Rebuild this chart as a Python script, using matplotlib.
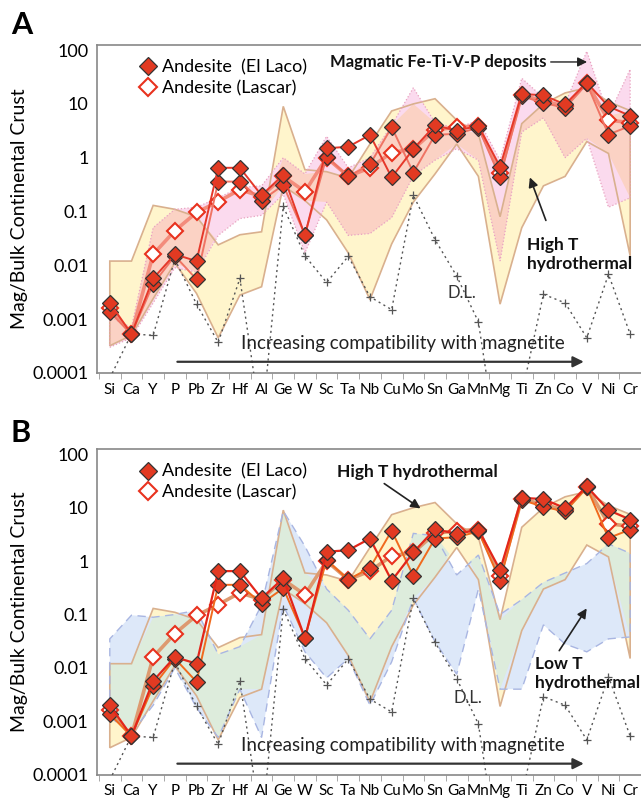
import numpy as np
import matplotlib
matplotlib.use('Agg')
import matplotlib.pyplot as plt
from matplotlib.lines import Line2D

plt.rcParams['font.family'] = ['Lato', 'DejaVu Sans']

# elements, ordered by increasing compatibility with magnetite
elements = ['Si', 'Ca', 'Y', 'P', 'Pb', 'Zr', 'Hf', 'Al', 'Ge', 'W', 'Sc', 'Ta', 'Nb',
            'Cu', 'Mo', 'Sn', 'Ga', 'Mn', 'Mg', 'Ti', 'Zn', 'Co', 'V', 'Ni', 'Cr']

# magnetite / bulk continental crust
el_laco_1 = [0.0020, 0.00053, 0.0057, 0.016, 0.012, 0.65, 0.65, 0.20, 0.48, 0.036, 1.5, 1.6, 2.65,
             0.43, 1.45, 4.0, 3.2, 3.9, 0.68, 15.3, 14.5, 9.8, 25, 9.0, 6.0]
el_laco_2 = [0.00135, 0.00053, 0.0045, 0.015, 0.0055, 0.36, 0.36, 0.16, 0.31, 0.037, 1.05, 0.45, 0.75,
             3.7, 0.53, 2.65, 2.8, 3.6, 0.43, 14.0, 10.4, 8.5, 24, 2.7, 3.9]
lascar = [0.0016, 0.00053, 0.016, 0.044, 0.096, 0.153, 0.255, 0.19, 0.45, 0.235, 1.0, 0.45, 0.65,
          1.25, 1.45, 3.3, 3.7, 3.9, 0.53, 14.5, 11.5, 9.0, 24.5, 5.0, 4.5]
detection_limit = [8e-5, 5.3e-4, 5e-4, 0.013, 0.0019, 0.00037, 0.0057, 1e-5, 0.125, 0.015, 0.0048, 0.0147,
                   0.0026, 0.0015, 0.2, 0.03, 0.0063, 0.00089, 2e-6, 4e-5, 0.0029, 0.002, 0.00045, 0.0068, 0.00053]

# reference fields
high_t_hi = [0.012, 0.012, 0.13, 0.11, 0.08, 0.024, 0.037, 0.042, 9.0, 0.6, 0.55, 0.42, 1.8,
             7.4, 10.0, 12.5, 5.0, 2.8, 0.08, 4.3, 10.0, 16, 20, 11, 7.5]
high_t_lo = [0.00032, 0.0005, 0.0024, 0.011, 0.003, 0.00045, 0.0028, 0.004, 0.3, 0.16, 0.07, 0.017, 0.0023,
             0.025, 0.15, 0.5, 1.8, 0.45, 0.0019, 0.05, 0.3, 0.45, 2.0, 1.2, 0.015]
magmatic_hi = [0.0011, 0.0007, 0.05, 0.11, 0.12, 0.18, 0.28, 0.3, 1.0, 0.5, 2.5, 0.65, 1.0,
               4.0, 20, 4.5, 3.5, 5.0, 0.9, 30, 13, 10, 95, 6, 44]
magmatic_lo = [0.0003, 0.00045, 0.002, 0.009, 0.0075, 0.036, 0.074, 0.085, 0.21, 0.017, 0.15, 0.036, 0.039,
               0.077, 0.46, 0.9, 1.47, 0.9, 0.012, 3.0, 5.5, 1.0, 2.3, 0.12, 0.18]
low_t_hi = [0.035, 0.097, 0.089, 0.1, 0.12, 0.018, 0.025, 0.15, 8.7, 1.9, 0.3, 0.12, 0.035,
            0.12, 3.3, 3.0, 0.55, 1.3, 0.1, 0.19, 0.4, 0.6, 0.9, 2.1, 1.4]
low_t_lo = [0.0012, 0.0006, 0.002, 0.01, 0.0018, 0.0005, 0.004, 0.0005, 0.15, 0.02, 0.0065, 0.015, 0.002,
            0.013, 0.2, 0.031, 0.0076, 0.3, 0.004, 0.004, 0.064, 0.028, 0.02, 0.035, 0.038]

x = np.arange(len(elements))


def draw_field(ax, lo, hi, face, edge, ls, lw):
    xs = np.r_[x, x[::-1]]
    ys = np.r_[lo, hi[::-1]]
    ax.fill(xs, ys, facecolor=face, edgecolor='none', zorder=1)
    ax.fill(xs, ys, facecolor='none', edgecolor=edge, linestyle=ls, lw=lw, zorder=3)


def draw_overlap(ax, lo1, hi1, lo2, hi2, face):
    lo = np.maximum(lo1, lo2)
    hi = np.minimum(hi1, hi2)
    ax.fill_between(x, lo, hi, where=hi > lo, interpolate=True, color=face, lw=0, zorder=2)


def draw_samples(ax, colors, widths):
    ax.plot(x, detection_limit, color='#555555', ls=(0, (1.5, 2.5)), lw=1.0,
            marker='+', ms=6, mew=0.9, zorder=4)
    ax.plot(x, lascar, color=colors[2], lw=widths[2], marker='D', ms=8,
            mfc='white', mec='#e8321e', mew=1.5, zorder=5)
    ax.plot(x, el_laco_2, color=colors[1], lw=widths[1], marker='D', ms=8,
            mfc='#e23a22', mec='#333333', mew=0.9, zorder=6)
    ax.plot(x, el_laco_1, color=colors[0], lw=widths[0], marker='D', ms=8,
            mfc='#e23a22', mec='#333333', mew=0.9, zorder=7)


def setup_axes(ax):
    ax.set_yscale('log')
    ax.set_ylim(1e-4, 125)
    ax.set_xlim(-0.6, 24.41)
    ax.set_yticks([1e-4, 1e-3, 1e-2, 0.1, 1, 10, 100])
    ax.set_yticklabels(['0.0001', '0.001', '0.01', '0.1', '1', '10', '100'], fontsize=13)
    ax.yaxis.set_minor_locator(plt.NullLocator())
    ax.tick_params(axis='y', length=0, pad=6)
    ax.set_xticks(x)
    ax.set_xticklabels(elements, fontsize=11)
    ax.set_xticks(np.arange(-0.5, 24.6, 1), minor=True)
    ax.tick_params(axis='x', which='major', length=0, pad=7)
    ax.tick_params(axis='x', which='minor', length=4, color='#999999')
    for s in ['left', 'bottom', 'top']:
        ax.spines[s].set_color('#888888')
        ax.spines[s].set_linewidth(1.2)
    ax.spines['right'].set_visible(False)
    ax.set_ylabel('Mag/Bulk Continental Crust', fontsize=14, labelpad=3)

    handles = [Line2D([], [], ls='none', marker='D', ms=9, mfc='#e23a22', mec='#333333', mew=0.9),
               Line2D([], [], ls='none', marker='D', ms=9, mfc='white', mec='#e8321e', mew=1.5)]
    ax.legend(handles, ['Andesite  (El Laco)', 'Andesite (Lascar)'], loc='upper left',
              bbox_to_anchor=(0.045, 1.005), frameon=False, fontsize=13,
              handletextpad=0.15, labelspacing=0.25, handlelength=1.2)

    ax.text(0.5625, 0.09, 'Increasing compatibility with magnetite', transform=ax.transAxes,
            ha='center', va='center', fontsize=13.5, color='#222222', zorder=8)
    ax.annotate('', xy=(0.9, 0.034), xytext=(0.143, 0.034), xycoords='axes fraction',
                arrowprops=dict(arrowstyle='-|>', color='#333333', lw=1.6, mutation_scale=16), zorder=8)


fig = plt.figure(figsize=(6.41, 8.02), dpi=100)
ax_a = fig.add_axes([0.151, 0.535, 0.849, 0.409])
ax_b = fig.add_axes([0.151, 0.034, 0.849, 0.406])

# panel A: magmatic vs high T hydrothermal
draw_field(ax_a, np.array(high_t_lo), np.array(high_t_hi), '#fff5cc', '#d9b08e', '-', 1.2)
draw_field(ax_a, np.array(magmatic_lo), np.array(magmatic_hi), '#fbdaee', '#e8a2bf', ':', 0.9)
draw_overlap(ax_a, np.array(high_t_lo), np.array(high_t_hi),
             np.array(magmatic_lo), np.array(magmatic_hi), '#fbd2c4')
draw_samples(ax_a, ['#e5382a', '#ef7464', '#f38c7c'], [1.4, 1.4, 2.6])
setup_axes(ax_a)

ax_a.text(0.428, 0.948, 'Magmatic Fe-Ti-V-P deposits', transform=ax_a.transAxes,
          ha='left', va='center', fontsize=12, fontweight='bold', color='#111111')
ax_a.annotate('', xy=(0.906, 0.948), xytext=(0.829, 0.948), xycoords='axes fraction',
              arrowprops=dict(arrowstyle='-|>', color='#222222', lw=1.0, mutation_scale=14))
ax_a.text(0.79, 0.36, 'High T\nhydrothermal', transform=ax_a.transAxes, ha='left', va='center',
          fontsize=12.5, fontweight='bold', color='#111111', linespacing=1.25, zorder=8)
ax_a.annotate('', xy=(0.794, 0.604), xytext=(0.827, 0.457), xycoords='axes fraction',
              arrowprops=dict(arrowstyle='-|>', color='#222222', lw=1.2, mutation_scale=14))
ax_a.text(0.671, 0.244, 'D.L.', transform=ax_a.transAxes, ha='center', va='center',
          fontsize=12, color='#333333')

# panel B: low T vs high T hydrothermal
draw_field(ax_b, np.array(high_t_lo), np.array(high_t_hi), '#fff5cc', '#d9b08e', '-', 1.2)
draw_field(ax_b, np.array(low_t_lo), np.array(low_t_hi), '#dde8f9', '#a9b6e2', (0, (6, 4)), 1.0)
draw_overlap(ax_b, np.array(high_t_lo), np.array(high_t_hi),
             np.array(low_t_lo), np.array(low_t_hi), '#ddecdc')
draw_samples(ax_b, ['#e3261a', '#f06a1e', '#dd9a70'], [1.6, 1.4, 2.6])
setup_axes(ax_b)

ax_b.text(0.589, 0.929, 'High T hydrothermal', transform=ax_b.transAxes, ha='center', va='center',
          fontsize=12.5, fontweight='bold', color='#111111')
ax_b.annotate('', xy=(0.599, 0.813), xytext=(0.524, 0.899), xycoords='axes fraction',
              arrowprops=dict(arrowstyle='-|>', color='#222222', lw=1.2, mutation_scale=14))
ax_b.text(0.805, 0.31, 'Low T\nhydrothermal', transform=ax_b.transAxes, ha='left', va='center',
          fontsize=12.5, fontweight='bold', color='#111111', linespacing=1.25, zorder=8)
ax_b.annotate('', xy=(0.903, 0.518), xytext=(0.847, 0.374), xycoords='axes fraction',
              arrowprops=dict(arrowstyle='-|>', color='#222222', lw=1.2, mutation_scale=14))
ax_b.text(0.682, 0.236, 'D.L.', transform=ax_b.transAxes, ha='center', va='center',
          fontsize=12, color='#333333')

fig.text(0.017, 0.969, 'A', fontsize=22, fontweight='bold', ha='left', va='center')
fig.text(0.017, 0.46, 'B', fontsize=22, fontweight='bold', ha='left', va='center')

fig.savefig('out.png', dpi=100)
